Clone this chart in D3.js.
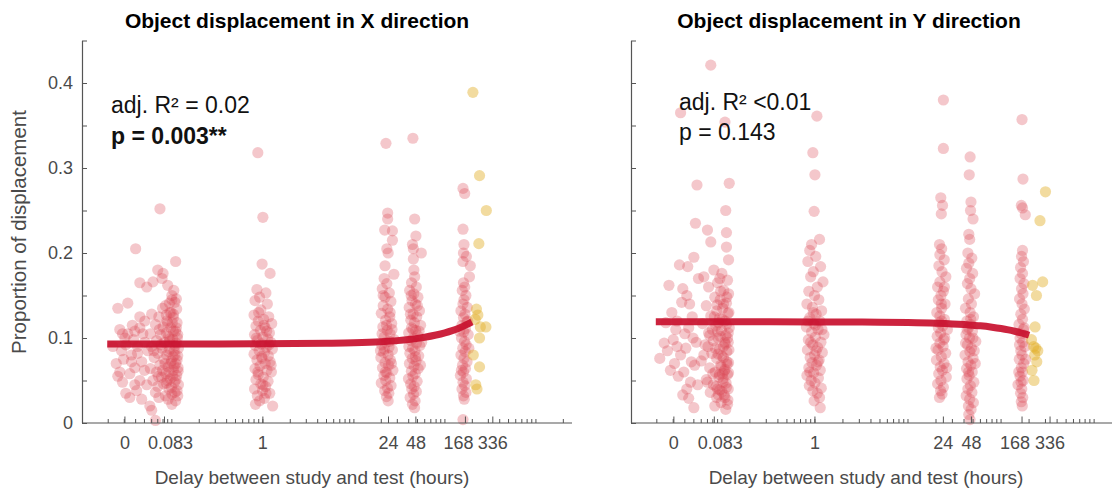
<!DOCTYPE html>
<html><head><meta charset="utf-8">
<script src="https://cdn.jsdelivr.net/npm/d3@7"></script>
<style>
html,body{margin:0;padding:0;background:#fff;}
svg{display:block;font-family:"Liberation Sans",Arial,Helvetica,sans-serif;}
</style>
</head><body>
<svg id="chart" width="1112" height="493"></svg>
<script>
// ---------- labels / ticks ----------
const titles = ["Object displacement in X direction", "Object displacement in Y direction"];
const xAxisLabel = "Delay between study and test (hours)";
const yAxisLabel = "Proportion of displacement";
const xTickValues = [0.0305, 0.083, 1, 24, 48, 168, 336];   // "0" is drawn at a nominal log position
const xTickLabels = ["0", "0.083", "1", "24", "48", "168", "336"];
const yTickValues = [0, 0.1, 0.2, 0.3, 0.4];
const yTickLabels = ["0", "0.1", "0.2", "0.3", "0.4"];
const yMinorTicks = [0.05, 0.15, 0.25, 0.35, 0.45];
const xDomain = [0.0103, 2490];
const yDomain = [0, 0.45];
const statsXdir = ["adj. R\u00B2 = 0.02", "p = 0.003**"];
const statsYdir = ["adj. R\u00B2 <0.01", "p = 0.143"];

// ---------- X direction data: [delay (h), proportion] ----------
const xImmediate = [[0.0225,0.090],[0.0255,0.135],[0.0328,0.141],[0.0268,0.110],[0.0328,0.105],[0.0392,0.108],[0.0445,0.112],[0.0305,0.100],[0.028,0.085],[0.0295,0.075],[0.0245,0.070],[0.0268,0.060],[0.0255,0.055],[0.0287,0.048],[0.0312,0.035],[0.0345,0.030],[0.0466,0.028],[0.0445,0.050],[0.0392,0.065],[0.036,0.080],[0.042,0.090],[0.0505,0.095],[0.0505,0.120],[0.0445,0.125],[0.040,0.205],[0.0445,0.165],[0.053,0.160],[0.053,0.045],[0.0573,0.020],[0.041,0.038],[0.0466,0.072],[0.0545,0.085],[0.0368,0.115],[0.0312,0.092],[0.0345,0.058],[0.038,0.098],[0.042,0.082],[0.0287,0.105],[0.0392,0.045],[0.048,0.105],[0.05,0.062],[0.036,0.072]];
const x5min = [[0.074,0.252],[0.110,0.190],[0.070,0.180],[0.080,0.176],[0.078,0.170],[0.062,0.166],[0.090,0.162],[0.105,0.156],[0.100,0.150],[0.112,0.146],[0.108,0.142],[0.085,0.138],[0.060,0.128],[0.095,0.130],[0.072,0.125],[0.104,0.124],[0.088,0.120],[0.114,0.118],[0.066,0.116],[0.080,0.113],[0.097,0.112],[0.110,0.108],[0.058,0.105],[0.075,0.104],[0.092,0.102],[0.102,0.099],[0.068,0.097],[0.083,0.095],[0.112,0.094],[0.060,0.090],[0.078,0.088],[0.095,0.087],[0.106,0.085],[0.070,0.082],[0.088,0.080],[0.116,0.079],[0.064,0.077],[0.082,0.075],[0.099,0.073],[0.110,0.070],[0.074,0.068],[0.091,0.066],[0.058,0.064],[0.104,0.062],[0.068,0.060],[0.086,0.058],[0.113,0.056],[0.077,0.054],[0.096,0.052],[0.062,0.050],[0.107,0.048],[0.081,0.046],[0.070,0.043],[0.093,0.040],[0.114,0.038],[0.066,0.036],[0.100,0.034],[0.085,0.032],[0.072,0.030],[0.110,0.026],[0.100,0.022],[0.060,0.015],[0.066,0.003],[0.090,0.118],[0.076,0.092],[0.104,0.108],[0.094,0.096],[0.084,0.070],[0.108,0.080],[0.098,0.130],[0.115,0.100],[0.089,0.050],[0.079,0.135],[0.117,0.065],[0.100,0.145],
  [0.101,0.118],[0.112,0.112],[0.087,0.106],[0.116,0.104],[0.095,0.099],[0.109,0.091],[0.118,0.088],[0.092,0.084],[0.103,0.078],[0.114,0.074],[0.097,0.070],[0.106,0.067],[0.117,0.061],[0.093,0.060],[0.102,0.055],[0.111,0.051],[0.087,0.047],[0.118,0.045],[0.099,0.042],[0.108,0.036],[0.116,0.032],[0.091,0.028],[0.104,0.128],[0.113,0.134],[0.087,0.127],[0.073,0.110],[0.063,0.085],[0.079,0.062],[0.071,0.055],[0.094,0.141]];
const x1h = [[0.88,0.318],[1.00,0.242],[0.98,0.187],[1.20,0.176],[0.86,0.157],[1.08,0.153],[0.92,0.148],[0.82,0.144],[1.12,0.140],[0.95,0.133],[0.80,0.127],[1.16,0.125],[1.02,0.122],[0.89,0.120],[1.25,0.117],[0.84,0.114],[1.06,0.112],[0.94,0.109],[1.18,0.106],[0.81,0.104],[1.00,0.101],[1.13,0.099],[0.87,0.097],[1.22,0.095],[0.96,0.093],[0.83,0.091],[1.09,0.089],[1.27,0.087],[0.91,0.085],[1.04,0.083],[0.80,0.081],[1.15,0.079],[0.98,0.076],[0.86,0.074],[1.20,0.072],[1.06,0.070],[0.93,0.067],[0.82,0.064],[1.11,0.062],[1.24,0.060],[0.89,0.057],[1.01,0.054],[0.84,0.051],[1.14,0.049],[0.95,0.046],[1.07,0.043],[0.81,0.040],[0.99,0.038],[1.19,0.035],[0.87,0.032],[1.04,0.029],[0.92,0.026],[0.83,0.022],[1.28,0.020],[1.10,0.108],[0.90,0.130],[1.03,0.115],[0.85,0.100],[1.17,0.092],[0.97,0.078],[1.23,0.068],[0.88,0.060],[1.00,0.045],[1.08,0.035]];
const x24h = [[22.5,0.329],[23.5,0.247],[23.5,0.240],[21.8,0.227],[26.5,0.226],[26.5,0.215],[23.0,0.205],[23.8,0.200],[22.0,0.185],[27.5,0.175],[21.5,0.170],[23.0,0.164],[20.5,0.158],[24.5,0.153],[22.0,0.148],[25.5,0.143],[21.0,0.138],[23.5,0.134],[20.0,0.129],[24.8,0.125],[22.3,0.121],[26.0,0.117],[20.8,0.113],[23.2,0.109],[25.0,0.105],[21.5,0.101],[27.8,0.098],[22.6,0.095],[20.2,0.092],[24.3,0.089],[26.5,0.086],[21.2,0.083],[23.8,0.080],[19.8,0.077],[25.2,0.074],[22.0,0.071],[24.0,0.068],[20.6,0.065],[26.8,0.062],[23.0,0.059],[21.4,0.056],[24.8,0.053],[22.4,0.050],[20.0,0.047],[25.6,0.044],[23.4,0.041],[21.8,0.038],[24.2,0.035],[22.8,0.031],[23.8,0.026],[21.0,0.150],[25.0,0.130],[22.8,0.115],[20.4,0.105],[24.6,0.096],[21.6,0.087],[25.8,0.070],[22.2,0.060],[19.6,0.085],[26.2,0.110]];
const x48h = [[44.5,0.335],[46.5,0.240],[48.0,0.220],[44.0,0.210],[45.0,0.205],[55.0,0.200],[45.0,0.193],[46.5,0.172],[43.0,0.165],[48.5,0.160],[41.0,0.156],[45.5,0.152],[50.5,0.148],[43.5,0.144],[47.5,0.140],[40.5,0.136],[52.5,0.132],[44.8,0.128],[49.0,0.125],[42.2,0.121],[46.2,0.118],[54.0,0.115],[43.0,0.112],[47.8,0.109],[40.0,0.106],[50.2,0.103],[45.0,0.100],[42.5,0.097],[48.8,0.094],[53.0,0.091],[44.2,0.088],[46.8,0.085],[41.2,0.082],[51.5,0.079],[43.8,0.076],[48.2,0.073],[40.8,0.070],[45.8,0.067],[50.8,0.064],[42.8,0.061],[47.2,0.058],[44.5,0.055],[39.8,0.052],[49.5,0.049],[42.0,0.046],[46.0,0.043],[43.2,0.040],[48.5,0.037],[45.2,0.034],[41.5,0.030],[47.0,0.026],[44.0,0.022],[46.4,0.018],[52.0,0.108],[41.8,0.128],[49.8,0.138],[55.5,0.095],[40.2,0.090],[47.4,0.078],[53.8,0.068],[44.6,0.110],[42.6,0.150],[45.6,0.180]];
const x168h = [[158,0.276],[165,0.270],[158,0.228],[162,0.210],[160,0.200],[172,0.196],[158,0.190],[186,0.172],[160,0.165],[165,0.160],[155,0.156],[170,0.150],[162,0.145],[158,0.140],[176,0.136],[150,0.132],[166,0.128],[160,0.124],[174,0.119],[154,0.115],[168,0.111],[161,0.107],[180,0.104],[152,0.100],[164,0.096],[171,0.092],[157,0.088],[167,0.084],[150,0.080],[162,0.076],[175,0.072],[156,0.068],[168,0.064],[160,0.060],[148,0.056],[172,0.052],[158,0.048],[165,0.044],[154,0.040],[170,0.036],[160,0.032],[163,0.028],[158,0.004],[190,0.185],[178,0.120],[145,0.108],[183,0.088],[152,0.062]];
const x336h = [[203,0.389],[240,0.291],[285,0.250],[236,0.211],[222,0.134],[230,0.127],[215,0.122],[245,0.113],[282,0.113],[240,0.100],[205,0.080],[240,0.066],[218,0.045],[225,0.040]];
const xFitDelay = [0.0195,0.1,1,5,10,20,30,40,50,60,80,100,120,140,160,180,198];
const xFitValue = [0.0930,0.0930,0.0931,0.0937,0.0943,0.0956,0.0969,0.0982,0.0996,0.1009,0.1035,0.1061,0.1087,0.1113,0.1140,0.1166,0.1189];

// ---------- Y direction data: [delay (h), proportion] ----------
const yImmediate = [[0.036,0.365],[0.054,0.280],[0.052,0.235],[0.050,0.195],[0.035,0.186],[0.043,0.184],[0.027,0.162],[0.038,0.158],[0.0215,0.076],[0.024,0.094],[0.030,0.098],[0.026,0.085],[0.028,0.062],[0.033,0.120],[0.031,0.070],[0.038,0.033],[0.044,0.029],[0.050,0.018],[0.040,0.105],[0.045,0.140],[0.032,0.110],[0.041,0.088],[0.036,0.080],[0.047,0.072],[0.029,0.130],[0.042,0.150],[0.048,0.125],[0.034,0.055],[0.046,0.048],[0.039,0.060],[0.053,0.095],[0.025,0.118],[0.044,0.112],[0.051,0.068],[0.037,0.142],[0.055,0.045],[0.033,0.090],[0.049,0.100],[0.042,0.040],[0.056,0.170]];
const y5min = [[0.076,0.421],[0.108,0.354],[0.120,0.282],[0.110,0.250],[0.070,0.227],[0.112,0.224],[0.076,0.213],[0.112,0.207],[0.118,0.192],[0.082,0.180],[0.100,0.176],[0.064,0.172],[0.115,0.168],[0.090,0.165],[0.072,0.160],[0.105,0.156],[0.118,0.152],[0.084,0.148],[0.096,0.145],[0.112,0.141],[0.068,0.138],[0.102,0.135],[0.088,0.132],[0.116,0.129],[0.076,0.126],[0.094,0.123],[0.108,0.120],[0.062,0.117],[0.086,0.114],[0.120,0.112],[0.099,0.109],[0.072,0.106],[0.110,0.103],[0.091,0.100],[0.081,0.097],[0.117,0.095],[0.066,0.092],[0.104,0.090],[0.094,0.087],[0.113,0.084],[0.078,0.082],[0.100,0.079],[0.088,0.076],[0.060,0.073],[0.118,0.071],[0.097,0.068],[0.074,0.065],[0.108,0.063],[0.085,0.060],[0.115,0.057],[0.093,0.054],[0.068,0.051],[0.103,0.048],[0.081,0.045],[0.112,0.042],[0.095,0.039],[0.075,0.036],[0.106,0.033],[0.088,0.030],[0.116,0.027],[0.098,0.024],[0.084,0.020],[0.110,0.016],[0.092,0.118],[0.107,0.095],[0.079,0.110],[0.119,0.130],[0.097,0.155],[0.085,0.088],[0.113,0.072],[0.071,0.090],[0.102,0.058],[0.090,0.040],[0.115,0.100],[0.083,0.125],
  [0.101,0.122],[0.112,0.116],[0.090,0.108],[0.117,0.106],[0.096,0.102],[0.109,0.093],[0.119,0.086],[0.091,0.081],[0.104,0.077],[0.114,0.069],[0.098,0.066],[0.106,0.061],[0.118,0.059],[0.094,0.057],[0.103,0.052],[0.111,0.047],[0.087,0.043],[0.117,0.040],[0.100,0.037],[0.108,0.030],[0.115,0.022],[0.092,0.033],[0.104,0.140],[0.113,0.148],[0.089,0.139],[0.074,0.103],[0.064,0.080],[0.080,0.058],[0.070,0.048],[0.095,0.170]];
const y1h = [[1.05,0.361],[0.95,0.318],[1.00,0.292],[0.98,0.249],[0.92,0.210],[1.12,0.216],[0.88,0.203],[1.02,0.196],[0.84,0.190],[1.15,0.184],[0.96,0.178],[0.90,0.172],[1.22,0.166],[1.06,0.160],[0.86,0.155],[0.99,0.150],[1.10,0.145],[0.82,0.140],[0.94,0.136],[1.18,0.132],[1.03,0.128],[0.88,0.124],[1.13,0.120],[0.97,0.117],[0.81,0.113],[1.08,0.110],[0.92,0.107],[1.25,0.104],[1.01,0.101],[0.85,0.098],[1.16,0.095],[0.95,0.092],[1.07,0.089],[0.83,0.086],[1.20,0.083],[0.99,0.080],[0.89,0.077],[1.11,0.074],[0.93,0.071],[1.04,0.068],[0.86,0.065],[1.14,0.062],[0.97,0.059],[0.82,0.056],[1.09,0.053],[0.91,0.050],[1.00,0.047],[0.87,0.044],[1.17,0.041],[0.95,0.038],[1.06,0.035],[1.12,0.030],[0.98,0.026],[1.14,0.018],[0.90,0.095],[1.03,0.085],[0.84,0.120],[1.19,0.110],[0.96,0.130],[1.08,0.072],[0.88,0.060],[1.01,0.115]];
const y24h = [[24.0,0.380],[24.0,0.323],[22.5,0.265],[23.5,0.256],[22.8,0.246],[21.8,0.210],[23.0,0.205],[22.0,0.198],[24.5,0.192],[21.5,0.185],[23.2,0.178],[25.5,0.172],[22.0,0.166],[20.8,0.160],[24.0,0.155],[22.6,0.150],[21.2,0.145],[25.0,0.140],[23.0,0.135],[20.4,0.130],[22.0,0.126],[24.6,0.122],[21.6,0.118],[23.6,0.114],[26.5,0.110],[22.4,0.106],[20.6,0.102],[24.2,0.098],[22.0,0.094],[23.8,0.090],[21.0,0.086],[25.4,0.082],[22.8,0.078],[20.2,0.074],[24.4,0.070],[22.2,0.066],[23.4,0.062],[21.4,0.058],[25.8,0.054],[22.6,0.050],[20.8,0.046],[24.0,0.042],[22.4,0.038],[23.2,0.034],[21.8,0.030],[24.8,0.100],[21.2,0.112],[23.0,0.120],[26.0,0.065],[20.0,0.088],[22.8,0.140],[24.6,0.160]];
const y48h = [[46.5,0.313],[45.5,0.292],[47.5,0.260],[47.0,0.250],[50.0,0.240],[45.0,0.222],[46.0,0.216],[44.0,0.200],[48.5,0.194],[45.0,0.188],[42.5,0.182],[49.5,0.176],[46.0,0.170],[43.5,0.164],[47.5,0.158],[52.0,0.152],[44.5,0.146],[48.0,0.140],[41.5,0.135],[46.5,0.130],[50.5,0.125],[43.0,0.120],[47.0,0.116],[44.8,0.112],[49.2,0.108],[42.0,0.104],[45.8,0.100],[53.5,0.096],[43.6,0.092],[48.0,0.088],[46.2,0.084],[41.0,0.080],[50.0,0.076],[44.2,0.072],[47.4,0.068],[42.6,0.064],[49.0,0.060],[45.4,0.056],[43.0,0.052],[51.0,0.048],[46.8,0.044],[44.0,0.040],[48.6,0.036],[42.2,0.032],[46.0,0.028],[50.4,0.024],[44.6,0.020],[47.6,0.016],[45.0,0.010],[46.4,0.004],[43.2,0.110],[49.8,0.100],[41.6,0.094],[52.8,0.070],[47.2,0.122],[44.8,0.060],[51.5,0.085]];
const y168h = [[168,0.357],[172,0.287],[165,0.256],[170,0.253],[182,0.245],[170,0.203],[166,0.196],[174,0.190],[162,0.183],[170,0.176],[160,0.170],[176,0.164],[166,0.158],[172,0.152],[158,0.146],[168,0.140],[178,0.134],[163,0.128],[170,0.122],[156,0.116],[174,0.110],[165,0.105],[160,0.100],[171,0.095],[180,0.090],[163,0.085],[168,0.080],[157,0.075],[175,0.070],[165,0.065],[170,0.060],[160,0.055],[173,0.050],[152,0.045],[167,0.040],[162,0.035],[171,0.030],[165,0.025],[169,0.020],[155,0.060],[177,0.112],[158,0.092],[184,0.075],[164,0.048]];
const y336h = [[300,0.272],[262,0.238],[218,0.162],[280,0.166],[240,0.150],[232,0.113],[224,0.090],[248,0.085],[236,0.088],[215,0.062],[226,0.050],[242,0.072],[212,0.098],[230,0.080]];
const yFitDelay = [0.0195,0.1,1,5,10,20,30,40,50,60,80,100,120,140,160,180,200];
const yFitValue = [0.1190,0.1190,0.1189,0.1186,0.1182,0.1174,0.1166,0.1158,0.1150,0.1143,0.1127,0.1111,0.1095,0.1079,0.1064,0.1048,0.1032];

// ---------- style settings (not data) ----------
const xTickLabelDx = [0, 6, 0, 0, 0, -7, 0];

// ---------- drawing ----------
const svg = d3.select("#chart");
svg.append("rect").attr("width",1112).attr("height",493).attr("fill","#fff");

const y = d3.scaleLinear().domain(yDomain).range([423, 40.5]);
const axisColor = "#555";
const textGrey = "#4a4a4a";

const panels = [
  {xAxisStart: 82, range: [82, 572], red: [xImmediate, x5min, x1h, x24h, x48h, x168h], yellow: x336h,
   fitD: xFitDelay, fitV: xFitValue, title: titles[0], titleX: 297, labelX: 312, stats: statsXdir,
   statsX: 111, statsY: [113, 144], boldP: true, yLabels: true},
  {xAxisStart: 631, range: [630, 1131], red: [yImmediate, y5min, y1h, y24h, y48h, y168h], yellow: y336h,
   fitD: yFitDelay, fitV: yFitValue, title: titles[1], titleX: 849, labelX: 866, stats: statsYdir,
   statsX: 679, statsY: [110, 140], boldP: false, yLabels: false}
];

// minor log ticks
const minorTicks = [];
for (let e = -2; e <= 3; e++) for (let k = 1; k <= 9; k++) {
  const v = k * Math.pow(10, e);
  if (v >= xDomain[0] && v <= xDomain[1]) minorTicks.push(v);
}

panels.forEach(p => {
  const x = d3.scaleLog().domain(xDomain).range(p.range);
  const g = svg.append("g");

  // points
  const redPts = p.red.flat();
  g.append("g").selectAll("circle").data(redPts).join("circle")
    .attr("cx", d => x(d[0])).attr("cy", d => y(d[1])).attr("r", 5.6)
    .attr("fill", "#d94452").attr("fill-opacity", 0.3);
  g.append("g").selectAll("circle").data(p.yellow).join("circle")
    .attr("cx", d => x(d[0])).attr("cy", d => y(d[1])).attr("r", 5.6)
    .attr("fill", "#e3b02a").attr("fill-opacity", 0.45);

  // fit line
  const fit = p.fitD.map((d, i) => [d, p.fitV[i]]);
  g.append("path").datum(fit)
    .attr("d", d3.line().x(d => x(d[0])).y(d => y(d[1])).curve(d3.curveMonotoneX))
    .attr("fill", "none").attr("stroke", "#c8102e").attr("stroke-opacity", 0.92)
    .attr("stroke-width", 7);

  // x axis
  const xEnd = Math.min(p.range[1], 1112);
  const xa = g.append("g").attr("transform", "translate(0,423)");
  xa.append("line").attr("x1", p.xAxisStart).attr("x2", xEnd).attr("y1", 0).attr("y2", 0)
    .attr("stroke", axisColor).attr("stroke-width", 1.1);
  xa.selectAll("line.minor").data(minorTicks).join("line").attr("class", "minor")
    .attr("x1", d => x(d)).attr("x2", d => x(d)).attr("y1", 0).attr("y2", -4)
    .attr("stroke", axisColor).attr("stroke-width", 1);
  xa.selectAll("line.major").data(xTickValues).join("line").attr("class", "major")
    .attr("x1", d => x(d)).attr("x2", d => x(d)).attr("y1", 0).attr("y2", -6.5)
    .attr("stroke", axisColor).attr("stroke-width", 1);
  xa.selectAll("text").data(xTickValues).join("text")
    .attr("x", (d, i) => x(d) + xTickLabelDx[i]).attr("y", 26).attr("text-anchor", "middle")
    .attr("font-size", 18).attr("fill", textGrey)
    .text((d, i) => xTickLabels[i]);

  // y axis
  const yAxis = d3.axisLeft(y).tickValues(yTickValues).tickSize(-5).tickSizeOuter(0).tickPadding(9)
    .tickFormat((d, i) => p.yLabels ? yTickLabels[i] : "");
  const ya = g.append("g").attr("transform", `translate(${p.xAxisStart},0)`).call(yAxis);
  const yMinor = d3.axisLeft(y).tickValues(yMinorTicks).tickSize(-5).tickSizeOuter(0).tickFormat("");
  const ym = g.append("g").attr("transform", `translate(${p.xAxisStart},0)`).call(yMinor);
  [ya, ym].forEach(a => {
    a.select(".domain").attr("stroke", axisColor).attr("stroke-width", 1.1);
    a.selectAll(".tick line").attr("stroke", axisColor);
    a.selectAll(".tick text").attr("font-size", 18).attr("fill", textGrey)
      .attr("font-family", '"Liberation Sans",Arial,sans-serif');
  });

  // title
  svg.append("text").attr("x", p.titleX).attr("y", 28).attr("text-anchor", "middle")
    .attr("font-size", 21).attr("font-weight", "bold").attr("fill", "#000").text(p.title);
  // x label
  svg.append("text").attr("x", p.labelX).attr("y", 484).attr("text-anchor", "middle")
    .attr("font-size", 19).attr("fill", textGrey).text(xAxisLabel);
  // stats
  svg.append("text").attr("x", p.statsX).attr("y", p.statsY[0])
    .attr("font-size", 23).attr("fill", "#111").text(p.stats[0]);
  svg.append("text").attr("x", p.statsX).attr("y", p.statsY[1])
    .attr("font-size", 23).attr("fill", "#111").attr("font-weight", p.boldP ? "bold" : "normal")
    .text(p.stats[1]);
});

// y label
svg.append("text").attr("transform", "translate(26,232) rotate(-90)").attr("text-anchor", "middle")
  .attr("font-size", 20.5).attr("fill", textGrey).text(yAxisLabel);
</script>
</body></html>
